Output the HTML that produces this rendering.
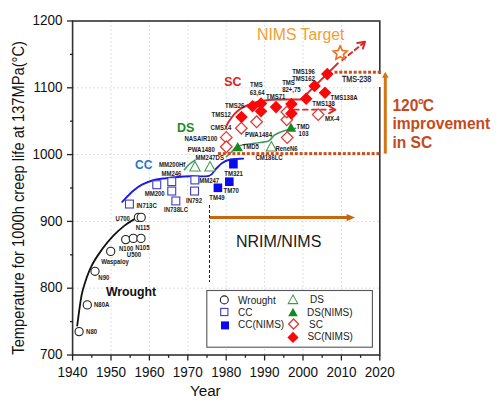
<!DOCTYPE html>
<html><head><meta charset="utf-8"><style>
html,body{margin:0;padding:0;background:#fff;}
svg{display:block;font-family:"Liberation Sans", sans-serif;}
</style></head><body>
<svg width="500" height="404" viewBox="0 0 500 404">
<rect width="500" height="404" fill="#fff"/>
<line x1="111.0" y1="21" x2="111.0" y2="355" stroke="#d4d4e2" stroke-width="1" stroke-dasharray="1.5,2.5"/>
<line x1="149.4" y1="21" x2="149.4" y2="355" stroke="#d4d4e2" stroke-width="1" stroke-dasharray="1.5,2.5"/>
<line x1="187.8" y1="21" x2="187.8" y2="355" stroke="#d4d4e2" stroke-width="1" stroke-dasharray="1.5,2.5"/>
<line x1="226.2" y1="21" x2="226.2" y2="355" stroke="#d4d4e2" stroke-width="1" stroke-dasharray="1.5,2.5"/>
<line x1="264.6" y1="21" x2="264.6" y2="355" stroke="#d4d4e2" stroke-width="1" stroke-dasharray="1.5,2.5"/>
<line x1="303.0" y1="21" x2="303.0" y2="355" stroke="#d4d4e2" stroke-width="1" stroke-dasharray="1.5,2.5"/>
<line x1="341.4" y1="21" x2="341.4" y2="355" stroke="#d4d4e2" stroke-width="1" stroke-dasharray="1.5,2.5"/>
<line x1="73" y1="288.2" x2="380" y2="288.2" stroke="#d4d4e2" stroke-width="1" stroke-dasharray="1.5,2.5"/>
<line x1="73" y1="221.4" x2="380" y2="221.4" stroke="#d4d4e2" stroke-width="1" stroke-dasharray="1.5,2.5"/>
<line x1="73" y1="154.6" x2="380" y2="154.6" stroke="#d4d4e2" stroke-width="1" stroke-dasharray="1.5,2.5"/>
<line x1="73" y1="87.8" x2="380" y2="87.8" stroke="#d4d4e2" stroke-width="1" stroke-dasharray="1.5,2.5"/>
<rect x="72.6" y="21" width="307.2" height="334" fill="none" stroke="#333" stroke-width="1.6"/>
<line x1="67" y1="355.0" x2="73" y2="355.0" stroke="#222" stroke-width="1.3"/>
<line x1="70" y1="321.6" x2="73" y2="321.6" stroke="#222" stroke-width="1.3"/>
<line x1="67" y1="288.2" x2="73" y2="288.2" stroke="#222" stroke-width="1.3"/>
<line x1="70" y1="254.8" x2="73" y2="254.8" stroke="#222" stroke-width="1.3"/>
<line x1="67" y1="221.4" x2="73" y2="221.4" stroke="#222" stroke-width="1.3"/>
<line x1="70" y1="188.0" x2="73" y2="188.0" stroke="#222" stroke-width="1.3"/>
<line x1="67" y1="154.6" x2="73" y2="154.6" stroke="#222" stroke-width="1.3"/>
<line x1="70" y1="121.2" x2="73" y2="121.2" stroke="#222" stroke-width="1.3"/>
<line x1="67" y1="87.8" x2="73" y2="87.8" stroke="#222" stroke-width="1.3"/>
<line x1="70" y1="54.4" x2="73" y2="54.4" stroke="#222" stroke-width="1.3"/>
<line x1="67" y1="21.0" x2="73" y2="21.0" stroke="#222" stroke-width="1.3"/>
<line x1="72.6" y1="355" x2="72.6" y2="360.5" stroke="#222" stroke-width="1.3"/>
<line x1="91.8" y1="355" x2="91.8" y2="357.8" stroke="#222" stroke-width="1.3"/>
<line x1="111.0" y1="355" x2="111.0" y2="360.5" stroke="#222" stroke-width="1.3"/>
<line x1="130.2" y1="355" x2="130.2" y2="357.8" stroke="#222" stroke-width="1.3"/>
<line x1="149.4" y1="355" x2="149.4" y2="360.5" stroke="#222" stroke-width="1.3"/>
<line x1="168.6" y1="355" x2="168.6" y2="357.8" stroke="#222" stroke-width="1.3"/>
<line x1="187.8" y1="355" x2="187.8" y2="360.5" stroke="#222" stroke-width="1.3"/>
<line x1="207.0" y1="355" x2="207.0" y2="357.8" stroke="#222" stroke-width="1.3"/>
<line x1="226.2" y1="355" x2="226.2" y2="360.5" stroke="#222" stroke-width="1.3"/>
<line x1="245.4" y1="355" x2="245.4" y2="357.8" stroke="#222" stroke-width="1.3"/>
<line x1="264.6" y1="355" x2="264.6" y2="360.5" stroke="#222" stroke-width="1.3"/>
<line x1="283.8" y1="355" x2="283.8" y2="357.8" stroke="#222" stroke-width="1.3"/>
<line x1="303.0" y1="355" x2="303.0" y2="360.5" stroke="#222" stroke-width="1.3"/>
<line x1="322.2" y1="355" x2="322.2" y2="357.8" stroke="#222" stroke-width="1.3"/>
<line x1="341.4" y1="355" x2="341.4" y2="360.5" stroke="#222" stroke-width="1.3"/>
<line x1="360.6" y1="355" x2="360.6" y2="357.8" stroke="#222" stroke-width="1.3"/>
<line x1="379.8" y1="355" x2="379.8" y2="360.5" stroke="#222" stroke-width="1.3"/>
<text transform="translate(62.6,359.1) scale(1,1.1)" text-anchor="end" font-size="13.5" fill="#111">700</text>
<text transform="translate(62.6,292.3) scale(1,1.1)" text-anchor="end" font-size="13.5" fill="#111">800</text>
<text transform="translate(62.6,225.5) scale(1,1.1)" text-anchor="end" font-size="13.5" fill="#111">900</text>
<text transform="translate(62.6,158.7) scale(1,1.1)" text-anchor="end" font-size="13.5" fill="#111">1000</text>
<text transform="translate(62.6,91.9) scale(1,1.1)" text-anchor="end" font-size="13.5" fill="#111">1100</text>
<text transform="translate(62.6,25.1) scale(1,1.1)" text-anchor="end" font-size="13.5" fill="#111">1200</text>
<text transform="translate(72.6,377.3) scale(1,1.07)" text-anchor="middle" font-size="13.5" fill="#111">1940</text>
<text transform="translate(111.0,377.3) scale(1,1.07)" text-anchor="middle" font-size="13.5" fill="#111">1950</text>
<text transform="translate(149.4,377.3) scale(1,1.07)" text-anchor="middle" font-size="13.5" fill="#111">1960</text>
<text transform="translate(187.8,377.3) scale(1,1.07)" text-anchor="middle" font-size="13.5" fill="#111">1970</text>
<text transform="translate(226.2,377.3) scale(1,1.07)" text-anchor="middle" font-size="13.5" fill="#111">1980</text>
<text transform="translate(264.6,377.3) scale(1,1.07)" text-anchor="middle" font-size="13.5" fill="#111">1990</text>
<text transform="translate(303.0,377.3) scale(1,1.07)" text-anchor="middle" font-size="13.5" fill="#111">2000</text>
<text transform="translate(341.4,377.3) scale(1,1.07)" text-anchor="middle" font-size="13.5" fill="#111">2010</text>
<text transform="translate(379.8,377.3) scale(1,1.07)" text-anchor="middle" font-size="13.5" fill="#111">2020</text>
<text transform="translate(189.9,396) scale(1.13,1.07)" font-size="13.5" fill="#111">Year</text>
<text transform="translate(23.6,354.7) rotate(-90) scale(1,1.12)" x="0" y="0" font-size="14.7" fill="#111">Temperature for 1000h creep life at 137MPa(°C)</text>
<path d="M77.2,325.7 C77.7,322.2 79.1,310.9 80,305 C80.9,299.1 81.0,296.4 82.8,290 C84.6,283.6 87.8,273.6 91.1,266.8 C94.3,260.0 98.6,254.2 102.3,249 C106.0,243.8 109.7,239.5 113.4,235.6 C117.1,231.7 121.0,228.4 124.5,225.6 C128.0,222.8 132.9,220.1 134.6,219" fill="none" stroke="#111" stroke-width="1.8" stroke-linecap="round"/>
<path d="M122.2,201.8 C124.0,200.0 129.7,193.8 133,191 C136.3,188.2 138.5,186.5 142,184.7 C145.5,182.9 150.0,181.1 154,180 C158.0,178.9 162.0,178.7 166,178.2 C170.0,177.7 174.0,177.3 178,177 C182.0,176.7 184.8,176.5 190,176.3 C195.2,176.1 204.8,176.9 209,175.8 C213.2,174.7 213.2,171.6 215.4,169.5 C217.6,167.4 219.7,164.7 222.2,163 C224.7,161.3 226.9,160.2 230.4,159.5 C233.9,158.8 241.2,158.8 243.3,158.6" fill="none" stroke="#1c1ce0" stroke-width="1.9" stroke-linecap="round"/>
<path d="M184.4,169.6 C185.2,168.8 187.2,166.1 189,164.5 C190.8,162.9 194.0,160.9 195,160.2" fill="none" stroke="#3f9a62" stroke-width="1.6" stroke-linecap="round"/>
<path d="M226.5,156.7 C227.4,155.8 230.1,153.2 232,151.5 C233.9,149.8 233.9,147.6 237.7,146.2 C241.5,144.8 249.9,144.1 255,143.2 C260.1,142.3 265.2,142.4 268.5,141 C271.8,139.6 271.8,136.8 274.5,135 C277.2,133.2 281.5,131.6 285,130.5 C288.5,129.4 293.8,128.6 295.5,128.2" fill="none" stroke="#3f9a62" stroke-width="1.6" stroke-linecap="round"/>
<path d="M227,124.5 C227.8,123.2 230.3,119.2 232,117 C233.7,114.8 235.3,113.0 237,111.5 C238.7,110.0 240.3,109.0 242,108 C243.7,107.0 244.7,106.5 247,105.5 C249.3,104.5 253.0,103.0 256,102.2 C259.0,101.4 262.3,100.8 265,100.4 C267.7,100.0 269.5,99.9 272,99.8 C274.5,99.7 278.7,99.6 280,99.6" fill="none" stroke="#e02525" stroke-width="2" stroke-linecap="round"/>
<polyline points="280,99.6 301.2,99.4 337.8,63.4" fill="none" stroke="#e02525" stroke-width="2" stroke-linejoin="round" stroke-linecap="round"/>
<polyline points="342.3,60 363,43.5" fill="none" stroke="#e02525" stroke-width="2" stroke-linejoin="round" stroke-linecap="round" stroke-dasharray="4.5,3.5"/>
<polyline points="357.3,43.1 365.1,41.7 362.9,48.4" fill="none" stroke="#e02525" stroke-width="2" stroke-linejoin="round" stroke-linecap="round"/>
<polyline points="294,109.7 333,109.7" fill="none" stroke="#e02525" stroke-width="1.8" stroke-linejoin="round" stroke-linecap="round" stroke-dasharray="4.7,4.3"/>
<polyline points="329,106 335.5,109.7 329,113.4" fill="none" stroke="#e02525" stroke-width="1.8" stroke-linejoin="round" stroke-linecap="round"/>
<rect x="334.5" y="70.7" width="3" height="3" fill="#c8501e"/>
<rect x="339.3" y="70.7" width="3" height="3" fill="#c8501e"/>
<rect x="344.1" y="70.7" width="3" height="3" fill="#c8501e"/>
<rect x="348.9" y="70.7" width="3" height="3" fill="#c8501e"/>
<rect x="353.7" y="70.7" width="3" height="3" fill="#c8501e"/>
<rect x="358.5" y="70.7" width="3" height="3" fill="#c8501e"/>
<rect x="363.3" y="70.7" width="3" height="3" fill="#c8501e"/>
<rect x="368.1" y="70.7" width="3" height="3" fill="#c8501e"/>
<rect x="372.9" y="70.7" width="3" height="3" fill="#c8501e"/>
<rect x="377.7" y="70.7" width="3" height="3" fill="#c8501e"/>
<rect x="218.0" y="152.1" width="3" height="3" fill="#c8501e"/>
<rect x="222.8" y="152.1" width="3" height="3" fill="#c8501e"/>
<rect x="227.6" y="152.1" width="3" height="3" fill="#c8501e"/>
<rect x="232.4" y="152.1" width="3" height="3" fill="#c8501e"/>
<rect x="237.2" y="152.1" width="3" height="3" fill="#c8501e"/>
<rect x="242.0" y="152.1" width="3" height="3" fill="#c8501e"/>
<rect x="246.8" y="152.1" width="3" height="3" fill="#c8501e"/>
<rect x="251.6" y="152.1" width="3" height="3" fill="#c8501e"/>
<rect x="256.4" y="152.1" width="3" height="3" fill="#c8501e"/>
<rect x="261.2" y="152.1" width="3" height="3" fill="#c8501e"/>
<rect x="266.0" y="152.1" width="3" height="3" fill="#c8501e"/>
<rect x="270.8" y="152.1" width="3" height="3" fill="#c8501e"/>
<rect x="275.6" y="152.1" width="3" height="3" fill="#c8501e"/>
<rect x="280.4" y="152.1" width="3" height="3" fill="#c8501e"/>
<rect x="285.2" y="152.1" width="3" height="3" fill="#c8501e"/>
<rect x="290.0" y="152.1" width="3" height="3" fill="#c8501e"/>
<rect x="294.8" y="152.1" width="3" height="3" fill="#c8501e"/>
<rect x="299.6" y="152.1" width="3" height="3" fill="#c8501e"/>
<rect x="304.4" y="152.1" width="3" height="3" fill="#c8501e"/>
<rect x="309.2" y="152.1" width="3" height="3" fill="#c8501e"/>
<rect x="314.0" y="152.1" width="3" height="3" fill="#c8501e"/>
<rect x="318.8" y="152.1" width="3" height="3" fill="#c8501e"/>
<rect x="323.6" y="152.1" width="3" height="3" fill="#c8501e"/>
<rect x="328.4" y="152.1" width="3" height="3" fill="#c8501e"/>
<rect x="333.2" y="152.1" width="3" height="3" fill="#c8501e"/>
<rect x="338.0" y="152.1" width="3" height="3" fill="#c8501e"/>
<rect x="342.8" y="152.1" width="3" height="3" fill="#c8501e"/>
<rect x="347.6" y="152.1" width="3" height="3" fill="#c8501e"/>
<rect x="352.4" y="152.1" width="3" height="3" fill="#c8501e"/>
<rect x="357.2" y="152.1" width="3" height="3" fill="#c8501e"/>
<rect x="362.0" y="152.1" width="3" height="3" fill="#c8501e"/>
<rect x="366.8" y="152.1" width="3" height="3" fill="#c8501e"/>
<rect x="371.6" y="152.1" width="3" height="3" fill="#c8501e"/>
<rect x="376.4" y="152.1" width="3" height="3" fill="#c8501e"/>
<line x1="385.3" y1="153.6" x2="385.3" y2="77" stroke="#d47514" stroke-width="3"/>
<polygon points="385.3,71.8 382,77.8 388.6,77.8" fill="#d47514"/>
<line x1="209.5" y1="217.6" x2="347.5" y2="217.6" stroke="#c8650f" stroke-width="3"/>
<polygon points="355,217.6 346.6,213.9 346.6,221.3" fill="#c8650f"/>
<line x1="209.5" y1="205" x2="209.5" y2="282" stroke="#222" stroke-width="1" stroke-dasharray="3,2"/>
<polygon points="340.20,46.00 342.26,50.47 347.14,51.04 343.53,54.38 344.49,59.21 340.20,56.80 335.91,59.21 336.87,54.38 333.26,51.04 338.14,50.47" fill="#fff" stroke="#ee7020" stroke-width="1.7" stroke-linejoin="miter"/>
<circle cx="79.1" cy="331.6" r="4.1" fill="#fff" stroke="#222" stroke-width="1.1"/>
<circle cx="87.3" cy="304.9" r="4.1" fill="#fff" stroke="#222" stroke-width="1.1"/>
<circle cx="95" cy="271.3" r="4.1" fill="#fff" stroke="#222" stroke-width="1.1"/>
<circle cx="110.7" cy="251.4" r="4.1" fill="#fff" stroke="#222" stroke-width="1.1"/>
<circle cx="125.7" cy="239.6" r="4.1" fill="#fff" stroke="#222" stroke-width="1.1"/>
<circle cx="133.3" cy="238.4" r="4.1" fill="#fff" stroke="#222" stroke-width="1.1"/>
<circle cx="141" cy="238.4" r="4.1" fill="#fff" stroke="#222" stroke-width="1.1"/>
<circle cx="138.4" cy="217.4" r="4.1" fill="#fff" stroke="#222" stroke-width="1.1"/>
<circle cx="141.2" cy="217.4" r="4.1" fill="#fff" stroke="#222" stroke-width="1.1"/>
<rect x="125.5" y="200.1" width="7.9" height="7.9" fill="#fff" stroke="#3c3cc0" stroke-width="1.1"/>
<rect x="152.8" y="180.8" width="7.9" height="7.9" fill="#fff" stroke="#3c3cc0" stroke-width="1.1"/>
<rect x="167.8" y="177.7" width="7.9" height="7.9" fill="#fff" stroke="#3c3cc0" stroke-width="1.1"/>
<rect x="167.8" y="187.1" width="7.9" height="7.9" fill="#fff" stroke="#3c3cc0" stroke-width="1.1"/>
<rect x="171.9" y="197.0" width="7.9" height="7.9" fill="#fff" stroke="#3c3cc0" stroke-width="1.1"/>
<rect x="190.9" y="176.0" width="7.9" height="7.9" fill="#fff" stroke="#3c3cc0" stroke-width="1.1"/>
<rect x="190.6" y="187.1" width="7.9" height="7.9" fill="#fff" stroke="#3c3cc0" stroke-width="1.1"/>
<rect x="229.1" y="159.9" width="8.6" height="8.6" fill="#0a0aee"/>
<rect x="225.0" y="177.4" width="8.6" height="8.6" fill="#0a0aee"/>
<rect x="213.6" y="183.5" width="8.6" height="8.6" fill="#0a0aee"/>
<polygon points="195,161.5 200.2,170.9 189.8,170.9" fill="#fff" stroke="#3f9a4a" stroke-width="1.05"/>
<polygon points="210,161.5 215.2,170.9 204.8,170.9" fill="#fff" stroke="#3f9a4a" stroke-width="1.05"/>
<polygon points="271.4,141.5 276.6,150.9 266.2,150.9" fill="#fff" stroke="#3f9a4a" stroke-width="1.05"/>
<polygon points="237.7,142.0 242.9,151.2 232.5,151.2" fill="#128a22"/>
<polygon points="291,122.6 296.2,131.8 285.8,131.8" fill="#128a22"/>
<polygon points="241.3,122.4 247.1,128.2 241.3,134.0 235.5,128.2" fill="#fff" stroke="#e03636" stroke-width="1.25"/>
<polygon points="226.3,131.6 232.1,137.4 226.3,143.2 220.5,137.4" fill="#fff" stroke="#e03636" stroke-width="1.25"/>
<polygon points="226.3,141.0 232.1,146.8 226.3,152.6 220.5,146.8" fill="#fff" stroke="#e03636" stroke-width="1.25"/>
<polygon points="256.6,116.0 262.4,121.8 256.6,127.6 250.8,121.8" fill="#fff" stroke="#e03636" stroke-width="1.25"/>
<polygon points="286.8,114.0 292.6,119.8 286.8,125.6 281.0,119.8" fill="#fff" stroke="#e03636" stroke-width="1.25"/>
<polygon points="286.8,106.2 292.6,112 286.8,117.8 281.0,112" fill="#fff" stroke="#e03636" stroke-width="1.25"/>
<polygon points="287.2,131.8 293.0,137.6 287.2,143.4 281.4,137.6" fill="#fff" stroke="#e03636" stroke-width="1.25"/>
<polygon points="318.2,108.8 324.0,114.6 318.2,120.4 312.4,114.6" fill="#fff" stroke="#e03636" stroke-width="1.25"/>
<polygon points="241.5,110.7 247.8,117 241.5,123.3 235.2,117" fill="#f80808"/>
<polygon points="252.6,99.9 258.9,106.2 252.6,112.5 246.3,106.2" fill="#f80808"/>
<polygon points="261,97.2 267.3,103.5 261,109.8 254.7,103.5" fill="#f80808"/>
<polygon points="261,104.9 267.3,111.2 261,117.5 254.7,111.2" fill="#f80808"/>
<polygon points="276,100.8 282.3,107.1 276,113.4 269.7,107.1" fill="#f80808"/>
<polygon points="291.4,97.7 297.7,104 291.4,110.3 285.1,104" fill="#f80808"/>
<polygon points="291.4,107.1 297.7,113.4 291.4,119.7 285.1,113.4" fill="#f80808"/>
<polygon points="306.2,92.4 312.5,98.7 306.2,105.0 299.9,98.7" fill="#f80808"/>
<polygon points="314.6,79.7 320.9,86 314.6,92.3 308.3,86" fill="#f80808"/>
<polygon points="325,86.5 331.3,92.8 325,99.1 318.7,92.8" fill="#f80808"/>
<polygon points="327.3,67.8 333.6,74.1 327.3,80.4 321.0,74.1" fill="#f80808"/>
<text transform="translate(86.1,333.8) scale(1,1.08)" font-size="6" font-weight="bold" fill="#1a1a1a">N80</text>
<text transform="translate(94,307.1) scale(1,1.08)" font-size="6" font-weight="bold" fill="#1a1a1a">N80A</text>
<text transform="translate(98.3,280.2) scale(1,1.08)" font-size="6" font-weight="bold" fill="#1a1a1a">N90</text>
<text transform="translate(101.2,264.1) scale(1,1.08)" font-size="6" font-weight="bold" fill="#1a1a1a">Waspaloy</text>
<text transform="translate(119,251.2) scale(1,1.08)" font-size="6" font-weight="bold" fill="#1a1a1a">N100</text>
<text transform="translate(126.8,256.8) scale(1,1.08)" font-size="6" font-weight="bold" fill="#1a1a1a">U500</text>
<text transform="translate(135.2,250.1) scale(1,1.08)" font-size="6" font-weight="bold" fill="#1a1a1a">N105</text>
<text transform="translate(115.6,221.2) scale(1,1.08)" font-size="6" font-weight="bold" fill="#1a1a1a">U700</text>
<text transform="translate(135.7,230.0) scale(1,1.08)" font-size="6" font-weight="bold" fill="#1a1a1a">N115</text>
<text transform="translate(136.4,208.1) scale(1,1.08)" font-size="6" font-weight="bold" fill="#1a1a1a">IN713C</text>
<text transform="translate(144.7,195.9) scale(1,1.08)" font-size="6" font-weight="bold" fill="#1a1a1a">MM200</text>
<text transform="translate(161.4,175.5) scale(1,1.08)" font-size="6" font-weight="bold" fill="#1a1a1a">MM246</text>
<text transform="translate(159,166.6) scale(1,1.08)" font-size="6" font-weight="bold" fill="#1a1a1a">MM200Hf</text>
<text transform="translate(164,212.1) scale(1,1.08)" font-size="6" font-weight="bold" fill="#1a1a1a">IN738LC</text>
<text transform="translate(186,203.2) scale(1,1.08)" font-size="6" font-weight="bold" fill="#1a1a1a">IN792</text>
<text transform="translate(199.2,183.2) scale(1,1.08)" font-size="6" font-weight="bold" fill="#1a1a1a">MM247</text>
<text transform="translate(209.3,199.9) scale(1,1.08)" font-size="6" font-weight="bold" fill="#1a1a1a">TM49</text>
<text transform="translate(223.6,192.5) scale(1,1.08)" font-size="6" font-weight="bold" fill="#1a1a1a">TM70</text>
<text transform="translate(224.3,176.0) scale(1,1.08)" font-size="6" font-weight="bold" fill="#1a1a1a">TM321</text>
<text transform="translate(195.6,160.3) scale(1,1.08)" font-size="6" font-weight="bold" fill="#1a1a1a">MM247DS</text>
<text transform="translate(187.8,151.8) scale(1,1.08)" font-size="6" font-weight="bold" fill="#1a1a1a">PWA1480</text>
<text transform="translate(184.4,140.8) scale(1,1.08)" font-size="6" font-weight="bold" fill="#1a1a1a">NASAIR100</text>
<text transform="translate(210.6,130.0) scale(1,1.08)" font-size="6" font-weight="bold" fill="#1a1a1a">CMSX4</text>
<text transform="translate(211.6,116.7) scale(1,1.08)" font-size="6" font-weight="bold" fill="#1a1a1a">TMS12</text>
<text transform="translate(225,107.7) scale(1,1.08)" font-size="6" font-weight="bold" fill="#1a1a1a">TMS26</text>
<text transform="translate(250,87.4) scale(1,1.08)" font-size="6" font-weight="bold" fill="#1a1a1a">TMS</text>
<text transform="translate(249.7,94.7) scale(1,1.08)" font-size="6" font-weight="bold" fill="#1a1a1a">63,64</text>
<text transform="translate(266,99.0) scale(1,1.08)" font-size="6" font-weight="bold" fill="#1a1a1a">TMS71</text>
<text transform="translate(282.2,84.6) scale(1,1.08)" font-size="6" font-weight="bold" fill="#1a1a1a">TMS</text>
<text transform="translate(282.2,92.2) scale(1,1.08)" font-size="6" font-weight="bold" fill="#1a1a1a">82+,75</text>
<text transform="translate(292.2,73.8) scale(1,1.08)" font-size="6" font-weight="bold" fill="#1a1a1a">TMS196</text>
<text transform="translate(292.2,81.2) scale(1,1.08)" font-size="6" font-weight="bold" fill="#1a1a1a">TMS162</text>
<text transform="translate(330.6,100.2) scale(1,1.08)" font-size="6" font-weight="bold" fill="#1a1a1a">TMS138A</text>
<text transform="translate(312.3,106.0) scale(1,1.08)" font-size="6" font-weight="bold" fill="#1a1a1a">TMS138</text>
<text transform="translate(325,121.4) scale(1,1.08)" font-size="6" font-weight="bold" fill="#1a1a1a">MX-4</text>
<text transform="translate(296.5,128.7) scale(1,1.08)" font-size="6" font-weight="bold" fill="#1a1a1a">TMD</text>
<text transform="translate(298.6,136.2) scale(1,1.08)" font-size="6" font-weight="bold" fill="#1a1a1a">103</text>
<text transform="translate(242.6,148.6) scale(1,1.08)" font-size="6" font-weight="bold" fill="#1a1a1a">TMD5</text>
<text transform="translate(245,137.2) scale(1,1.08)" font-size="6" font-weight="bold" fill="#1a1a1a">PWA1484</text>
<text transform="translate(275.4,151.0) scale(1,1.08)" font-size="6" font-weight="bold" fill="#1a1a1a">ReneN6</text>
<text transform="translate(255.4,160.1) scale(1,1.08)" font-size="6" font-weight="bold" fill="#1a1a1a">CM186LC</text>
<rect x="340" y="74" width="42" height="13" fill="#fff"/>
<text transform="translate(341.9,82) scale(0.86,1)" font-size="8.3" fill="#1a1a2a" stroke="#1a1a2a" stroke-width="0.25">TMS-238</text>
<text x="105.9" y="295.7" font-size="12.3" font-weight="bold" fill="#111">Wrought</text>
<text x="135.1" y="169.4" font-size="12" font-weight="bold" fill="#2878c4">CC</text>
<text x="177.1" y="131.7" font-size="12.5" font-weight="bold" fill="#1c8c22">DS</text>
<text x="224.3" y="86.1" font-size="12.4" font-weight="bold" fill="#e02020">SC</text>
<text x="257" y="40.4" font-size="15.8" fill="#f0a030">NIMS Target</text>
<text x="236" y="246.8" font-size="16" fill="#1a1a1a">NRIM/NIMS</text>
<text x="392.4" y="110.9" font-size="15.6" font-weight="bold" fill="#c44a1c">120<tspan dx="-0.8">°</tspan><tspan dx="-1.2">C</tspan></text>
<text x="392.4" y="128.5" font-size="15.6" font-weight="bold" fill="#c44a1c">improvement</text>
<text x="392.4" y="148.2" font-size="15.6" font-weight="bold" fill="#c44a1c">in SC</text>
<rect x="206.8" y="290.5" width="165.6" height="56.7" fill="#fff" stroke="#555" stroke-width="1.1"/>
<circle cx="224.3" cy="299.9" r="4" fill="#fff" stroke="#222" stroke-width="1.1"/>
<rect x="220.7" y="308.4" width="7.2" height="7.2" fill="#fff" stroke="#3c3cc0" stroke-width="1.1"/>
<rect x="221.0" y="321.4" width="8" height="8" fill="#0a0aee"/>
<polygon points="293,295.1 297.8,303.6 288.2,303.6" fill="#fff" stroke="#3f9a4a" stroke-width="1.05"/>
<polygon points="293,307.8 297.8,316.2 288.2,316.2" fill="#128a22"/>
<polygon points="293.6,319.0 298.6,324 293.6,329.0 288.6,324" fill="#fff" stroke="#e03636" stroke-width="1.25"/>
<polygon points="293,331.8 298.6,337.4 293,343.0 287.4,337.4" fill="#f80808"/>
<text x="238.1" y="303.9" font-size="10" fill="#222">Wrought</text>
<text x="238.1" y="315.6" font-size="10" fill="#222">CC</text>
<text x="238.1" y="327.8" font-size="10" fill="#222">CC(NIMS)</text>
<text x="310" y="303.4" font-size="10" fill="#222">DS</text>
<text x="307" y="316" font-size="10" fill="#222">DS(NIMS)</text>
<text x="309" y="328" font-size="10" fill="#222">SC</text>
<text x="307.4" y="340" font-size="10" fill="#222">SC(NIMS)</text>
</svg></body></html>
